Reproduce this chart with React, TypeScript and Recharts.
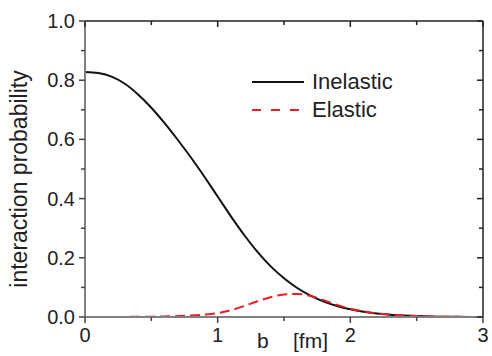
import React from "react";
import { LineChart, Line, XAxis, YAxis, ReferenceLine } from "recharts";

const bValues = [0, 0.1, 0.2, 0.3, 0.4, 0.5, 0.6, 0.7, 0.8, 0.9, 1.0, 1.1, 1.2, 1.3, 1.4, 1.5, 1.6, 1.7, 1.8, 1.9, 2.0, 2.1, 2.2, 2.3, 2.4, 2.5, 2.6, 2.7, 2.8, 2.9, 3.0];
const inelastic = [0.828, 0.824, 0.812, 0.788, 0.752, 0.707, 0.655, 0.598, 0.538, 0.474, 0.407, 0.340, 0.277, 0.220, 0.171, 0.131, 0.098, 0.072, 0.052, 0.037, 0.026, 0.018, 0.012, 0.008, 0.005, 0.003, 0.002, 0.001, 0.0006, 0.0003, 0.0001];
const elastic = [0, 0, 0.0001, 0.0003, 0.0007, 0.0012, 0.002, 0.003, 0.005, 0.008, 0.013, 0.023, 0.037, 0.053, 0.067, 0.076, 0.078, 0.071, 0.057, 0.041, 0.028, 0.019, 0.012, 0.008, 0.005, 0.003, 0.002, 0.001, 0.0006, 0.0003, 0.0001];

const xTicks = [0, 0.5, 1, 1.5, 2, 2.5, 3];
const xTickLabels = ["0", "", "1", "", "2", "", "3"];
const yTicks = [0, 0.1, 0.2, 0.3, 0.4, 0.5, 0.6, 0.7, 0.8, 0.9, 1.0];
const yTickLabels = ["0.0", "", "0.2", "", "0.4", "", "0.6", "", "0.8", "", "1.0"];

const seriesNames = ["Inelastic", "Elastic"];
const xLabel = ["b", "[fm]"];
const yLabel = "interaction probability";

const data = bValues.map((b, i) => ({ b, inelastic: inelastic[i], elastic: elastic[i] }));

const FONT = "Arial, 'Liberation Sans', Helvetica, sans-serif";
const RED = "#ed1c24";
const PLOT_W = 398;
const PLOT_H = 296;

const labelFor = (v: number, ticks: number[], labels: string[]) => {
  const idx = ticks.findIndex((t) => Math.abs(t - v) < 1e-9);
  return idx >= 0 ? labels[idx] : "";
};

const bottomTick = (props: any) => {
  const { x, y, payload } = props;
  const lab = labelFor(payload.value, xTicks, xTickLabels);
  const major = lab !== "";
  const top = y - PLOT_H;
  const first = Math.abs(payload.value - xTicks[0]) < 1e-9;
  return (
    <g>
      <line x1={x} x2={x} y1={y} y2={y + (major ? 6 : 4)} stroke="#444" strokeWidth={1.5} />
      <line x1={x} x2={x} y1={top} y2={top + (major ? 6 : 4)} stroke="#222" strokeWidth={1.5} />
      {major && (
        <text x={x} y={y + 25} textAnchor="middle" fontSize={20} fontFamily={FONT} fill="#222">{lab}</text>
      )}
      {first && (
        <text y={y + 31} fontSize={21} fontFamily={FONT} fill="#222">
          <tspan x={x + 172}>{xLabel[0]}</tspan>
          <tspan x={x + 208}>{xLabel[1]}</tspan>
        </text>
      )}
    </g>
  );
};

const leftTick = (props: any) => {
  const { x, y, payload } = props;
  const lab = labelFor(payload.value, yTicks, yTickLabels);
  const major = lab !== "";
  const right = x + PLOT_W;
  const isTop = Math.abs(payload.value - yTicks[yTicks.length - 1]) < 1e-9;
  const tx = x - 58;
  const ty = y + 158;
  return (
    <g>
      <line x1={x} x2={x - (major ? 6 : 4)} y1={y} y2={y} stroke="#444" strokeWidth={1.5} />
      <line x1={right} x2={right - (major ? 6 : 4)} y1={y} y2={y} stroke="#222" strokeWidth={1.5} />
      {major && (
        <text x={x - 10} y={y + 7} textAnchor="end" fontSize={20} fontFamily={FONT} fill="#222">{lab}</text>
      )}
      {isTop && (
        <g>
          <text x={tx} y={ty} transform={`rotate(-90 ${tx} ${ty})`} textAnchor="middle" fontSize={23} fontFamily={FONT} fill="#222">{yLabel}</text>
          <line x1={x + 167} x2={x + 219} y1={y + 61} y2={y + 61} stroke="#111" strokeWidth={2} />
          <text x={x + 227} y={y + 68} fontSize={22} fontFamily={FONT} fill="#222">{seriesNames[0]}</text>
          <line x1={x + 167} x2={x + 215} y1={y + 89} y2={y + 89} stroke={RED} strokeWidth={2} strokeDasharray="9 10" />
          <text x={x + 227} y={y + 96} fontSize={22} fontFamily={FONT} fill="#222">{seriesNames[1]}</text>
        </g>
      )}
    </g>
  );
};

export default function App() {
  return (
    <div style={{ position: "absolute", left: 0, top: 0, width: 492, height: 356 }}>
      <LineChart width={492} height={356} data={data} margin={{ top: 21, right: 9, left: 0, bottom: 0 }}>
        <XAxis dataKey="b" type="number" domain={[0, 3]} ticks={xTicks} interval={0} height={39} tickSize={0} tickMargin={0} tick={bottomTick} axisLine={{ stroke: "#808080", strokeWidth: 2 }} />
        <YAxis type="number" domain={[0, 1]} ticks={yTicks} interval={0} width={85} tickSize={0} tickMargin={0} tick={leftTick} axisLine={{ stroke: "#808080", strokeWidth: 2 }} />
        <ReferenceLine y={1} stroke="#222" strokeWidth={1.5} />
        <ReferenceLine x={3} stroke="#222" strokeWidth={1.5} />
        <Line dataKey="inelastic" name={seriesNames[0]} type="monotone" stroke="#111" strokeWidth={2} dot={false} isAnimationActive={false} />
        <Line dataKey="elastic" name={seriesNames[1]} type="monotone" stroke={RED} strokeWidth={2} strokeDasharray="10 5" dot={false} isAnimationActive={false} />
      </LineChart>
    </div>
  );
}
